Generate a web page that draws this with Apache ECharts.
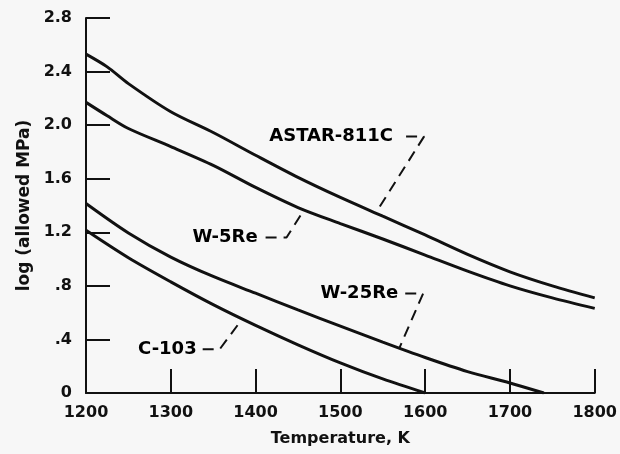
<!DOCTYPE html>
<html>
<head>
<meta charset="utf-8">
<script src="https://cdn.jsdelivr.net/npm/echarts@6/dist/echarts.min.js"></script>
<style>
html,body{margin:0;padding:0;background:#f7f7f7;}
#chart{width:620px;height:454px;}
</style>
</head>
<body>
<div id="chart"></div>
<script>
// ---- data ----
const astarTemps = [1200, 1225, 1250, 1300, 1350, 1400, 1450, 1500, 1550, 1600, 1650, 1700, 1750, 1800];
const astarVals  = [2.53, 2.435, 2.31, 2.10, 1.945, 1.775, 1.61, 1.46, 1.32, 1.18, 1.035, 0.905, 0.80, 0.71];

const w5Temps = [1200, 1225, 1250, 1300, 1350, 1400, 1450, 1500, 1550, 1600, 1650, 1700, 1750, 1800];
const w5Vals  = [2.17, 2.07, 1.975, 1.84, 1.70, 1.535, 1.385, 1.265, 1.15, 1.03, 0.91, 0.80, 0.71, 0.632];

const w25Temps = [1200, 1250, 1300, 1350, 1400, 1450, 1500, 1550, 1600, 1650, 1700, 1740];
const w25Vals  = [1.415, 1.195, 1.015, 0.87, 0.745, 0.62, 0.50, 0.38, 0.265, 0.16, 0.075, 0.0];

const c103Temps = [1200, 1250, 1300, 1350, 1400, 1450, 1500, 1550, 1600];
const c103Vals  = [1.215, 1.01, 0.83, 0.66, 0.505, 0.36, 0.225, 0.105, 0.0];

const xTicks = [1200, 1300, 1400, 1500, 1600, 1700, 1800];
const yTickLabels = ['0', '.4', '.8', '1.2', '1.6', '2.0', '2.4', '2.8'];

// annotation labels and their dashed leaders (data coordinates)
const annotNames = ['ASTAR-811C', 'W-5Re', 'W-25Re', 'C-103'];
const leaderTemps = [
  [1577.5, 1598.8, 1546.0],
  [1411.8, 1436.5, 1457.6],
  [1576.5, 1597.6, 1569.4],
  [1337.6, 1357.6, 1384.7]
];
const leaderVals = [
  [1.916, 1.916, 1.387],
  [1.161, 1.161, 1.372],
  [0.743, 0.743, 0.333],
  [0.326, 0.326, 0.557]
];
const labelDist = [13, 8, 7, 6];

// ---- build chart ----
const FONT = 'DejaVu Sans';
const INK = '#111111';
function pairs(xs, ys) { return xs.map((x, i) => [x, ys[i]]); }

const curveSeries = [
  [astarTemps, astarVals],
  [w5Temps, w5Vals],
  [w25Temps, w25Vals],
  [c103Temps, c103Vals]
].map(([xs, ys], i) => ({
  type: 'line',
  name: annotNames[i],
  data: pairs(xs, ys),
  smooth: 0.3,
  showSymbol: false,
  symbol: 'none',
  silent: true,
  lineStyle: { color: INK, width: 3 },
  z: 3
}));

const leaderSeries = leaderTemps.map((xs, i) => ({
  type: 'line',
  data: pairs(xs, leaderVals[i]),
  showSymbol: false,
  symbol: 'none',
  silent: true,
  lineStyle: { color: INK, width: 2, type: [11, 7] },
  z: 2
}));

const labelSeries = {
  type: 'scatter',
  silent: true,
  symbolSize: 0,
  itemStyle: { color: INK, opacity: 1 },
  emphasis: { disabled: true },
  data: annotNames.map((n, i) => ({
    value: [leaderTemps[i][0], leaderVals[i][0]],
    label: {
      show: true,
      position: 'left',
      distance: labelDist[i],
      formatter: n,
      color: '#000',
      opacity: 1,
      fontFamily: FONT,
      fontWeight: 'bold',
      fontSize: 18
    }
  })),
  z: 4
};

const chart = echarts.init(document.getElementById('chart'), null, { renderer: 'canvas' });
chart.setOption({
  backgroundColor: '#f7f7f7',
  animation: false,
  grid: { left: 86, right: 24, top: 18, bottom: 61, containLabel: false },
  xAxis: {
    type: 'value',
    min: xTicks[0],
    max: xTicks[xTicks.length - 1],
    interval: 100,
    name: 'Temperature, K',
    nameLocation: 'middle',
    nameGap: 38,
    nameTextStyle: { color: INK, fontFamily: FONT, fontWeight: 'bold', fontSize: 16 },
    axisLine: { show: true, lineStyle: { color: INK, width: 2 } },
    axisTick: { show: true, inside: true, length: 24, lineStyle: { color: INK, width: 2 } },
    axisLabel: {
      color: INK, fontFamily: FONT, fontWeight: 'bold', fontSize: 16, margin: 12,
      formatter: v => String(Math.round(v))
    },
    splitLine: { show: false }
  },
  yAxis: {
    type: 'value',
    min: 0,
    max: 2.8,
    interval: 0.4,
    name: 'log (allowed MPa)',
    nameLocation: 'middle',
    nameRotate: 90,
    nameGap: 52,
    nameTextStyle: { color: INK, fontFamily: FONT, fontWeight: 'bold', fontSize: 17 },
    axisLine: { show: true, lineStyle: { color: INK, width: 2 } },
    axisTick: { show: true, inside: true, length: 24, lineStyle: { color: INK, width: 2 } },
    axisLabel: {
      color: INK, fontFamily: FONT, fontWeight: 'bold', fontSize: 16, margin: 14,
      formatter: v => yTickLabels[Math.round(v / 0.4)]
    },
    splitLine: { show: false }
  },
  series: [...curveSeries, ...leaderSeries, labelSeries]
});
</script>
</body>
</html>
